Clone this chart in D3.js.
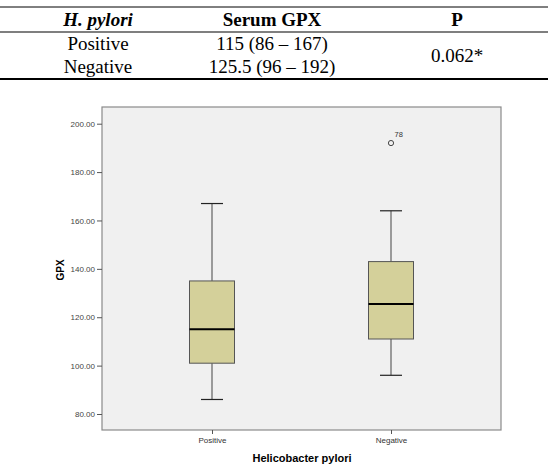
<!DOCTYPE html>
<html>
<head>
<meta charset="utf-8">
<script src="https://cdn.jsdelivr.net/npm/d3@7"></script>
<style>
  body { margin: 0; background: #fff; }
  svg { display: block; }
</style>
</head>
<body>
<div id="chart"></div>
<script>
// table contents
const tableHeader = ["H. pylori", "Serum GPX", "P"];
const tableRows = [["Positive", "115 (86 – 167)"], ["Negative", "125.5 (96 – 192)"]];
const pValue = "0.062*";

// box plot values
const groups = ["Positive", "Negative"];
const whiskerLow = [86, 96];
const q1 = [101, 111];
const medians = [115, 125.5];
const q3 = [135, 143];
const whiskerHigh = [167, 164];
const outliers = [{ group: "Negative", value: 192, label: "78" }];
const yTicks = [80, 100, 120, 140, 160, 180, 200];

const width = 548, height = 468;
const svg = d3.select("#chart").append("svg").attr("width", width).attr("height", height);

// ---- table ----
const colX = [98, 272, 457];
const serif = "'Liberation Serif', 'Times New Roman', serif";
svg.append("line").attr("x1", 0).attr("x2", width).attr("y1", 7).attr("y2", 7).attr("stroke", "#000").attr("stroke-width", 1);
svg.append("line").attr("x1", 0).attr("x2", width).attr("y1", 32).attr("y2", 32).attr("stroke", "#000").attr("stroke-width", 1.2);
svg.append("line").attr("x1", 0).attr("x2", width).attr("y1", 79).attr("y2", 79).attr("stroke", "#000").attr("stroke-width", 2);

svg.selectAll(".th").data(tableHeader).enter().append("text")
  .attr("x", (d, i) => colX[i]).attr("y", 26)
  .attr("text-anchor", "middle")
  .attr("font-family", serif).attr("font-size", 19).attr("font-weight", "bold")
  .attr("font-style", (d, i) => i === 0 ? "italic" : "normal")
  .text(d => d);

tableRows.forEach((row, r) => {
  row.forEach((cell, c) => {
    svg.append("text").attr("x", colX[c]).attr("y", 50 + r * 23)
      .attr("text-anchor", "middle").attr("font-family", serif).attr("font-size", 19)
      .text(cell);
  });
});
svg.append("text").attr("x", colX[2]).attr("y", 62).attr("text-anchor", "middle")
  .attr("font-family", serif).attr("font-size", 19).text(pValue);

// ---- box plot ----
const plot = { left: 102, right: 501, top: 107, bottom: 430 };
const sans = "Arial, 'Liberation Sans', sans-serif";

const y = d3.scaleLinear().domain([80, 200]).range([414, 123.7]);
const x = d3.scalePoint().domain(groups).range([212, 391]);

svg.append("rect").attr("x", plot.left).attr("y", plot.top)
  .attr("width", plot.right - plot.left).attr("height", plot.bottom - plot.top)
  .attr("fill", "#f0f0f0").attr("stroke", "#8a8a8a").attr("stroke-width", 1.2);

// y axis
const yAxis = svg.append("g").attr("transform", `translate(${plot.left},0)`)
  .call(d3.axisLeft(y).tickValues(yTicks).tickSize(5).tickPadding(2).tickFormat(d3.format(".2f")));
yAxis.select(".domain").remove();
yAxis.selectAll("line").attr("stroke", "#555");
yAxis.selectAll("text").attr("font-family", sans).attr("font-size", 8).attr("fill", "#444");

// x axis
const xAxis = svg.append("g").attr("transform", `translate(0,${plot.bottom})`)
  .call(d3.axisBottom(x).tickSize(4).tickPadding(3));
xAxis.select(".domain").remove();
xAxis.selectAll("line").attr("stroke", "#555");
xAxis.selectAll("text").attr("font-family", sans).attr("font-size", 8).attr("fill", "#333");

svg.append("text").attr("x", 302).attr("y", 462).attr("text-anchor", "middle")
  .attr("font-family", sans).attr("font-size", 11).attr("font-weight", "bold").text("Helicobacter pylori");
svg.append("text").attr("transform", "translate(64,270) rotate(-90)").attr("text-anchor", "middle")
  .attr("font-family", sans).attr("font-size", 10).attr("font-weight", "bold").text("GPX");

const boxW = 45, capW = 22;
groups.forEach((g, i) => {
  const cx = x(g);
  const grp = svg.append("g");
  grp.append("line").attr("x1", cx).attr("x2", cx).attr("y1", y(whiskerHigh[i])).attr("y2", y(q3[i]))
    .attr("stroke", "#444").attr("stroke-width", 1);
  grp.append("line").attr("x1", cx).attr("x2", cx).attr("y1", y(q1[i])).attr("y2", y(whiskerLow[i]))
    .attr("stroke", "#444").attr("stroke-width", 1);
  [whiskerHigh[i], whiskerLow[i]].forEach(v => {
    grp.append("line").attr("x1", cx - capW / 2).attr("x2", cx + capW / 2).attr("y1", y(v)).attr("y2", y(v))
      .attr("stroke", "#222").attr("stroke-width", 1.2);
  });
  grp.append("rect").attr("x", cx - boxW / 2).attr("y", y(q3[i]))
    .attr("width", boxW).attr("height", y(q1[i]) - y(q3[i]))
    .attr("fill", "#d4d09a").attr("stroke", "#555").attr("stroke-width", 1);
  grp.append("line").attr("x1", cx - boxW / 2).attr("x2", cx + boxW / 2).attr("y1", y(medians[i])).attr("y2", y(medians[i]))
    .attr("stroke", "#000").attr("stroke-width", 2);
});

outliers.forEach(o => {
  svg.append("circle").attr("cx", x(o.group)).attr("cy", y(o.value)).attr("r", 2.6)
    .attr("fill", "none").attr("stroke", "#444").attr("stroke-width", 1);
  svg.append("text").attr("x", x(o.group) + 3.5).attr("y", y(o.value) - 6)
    .attr("font-family", sans).attr("font-size", 7.5).attr("fill", "#333").text(o.label);
});
</script>
</body>
</html>
